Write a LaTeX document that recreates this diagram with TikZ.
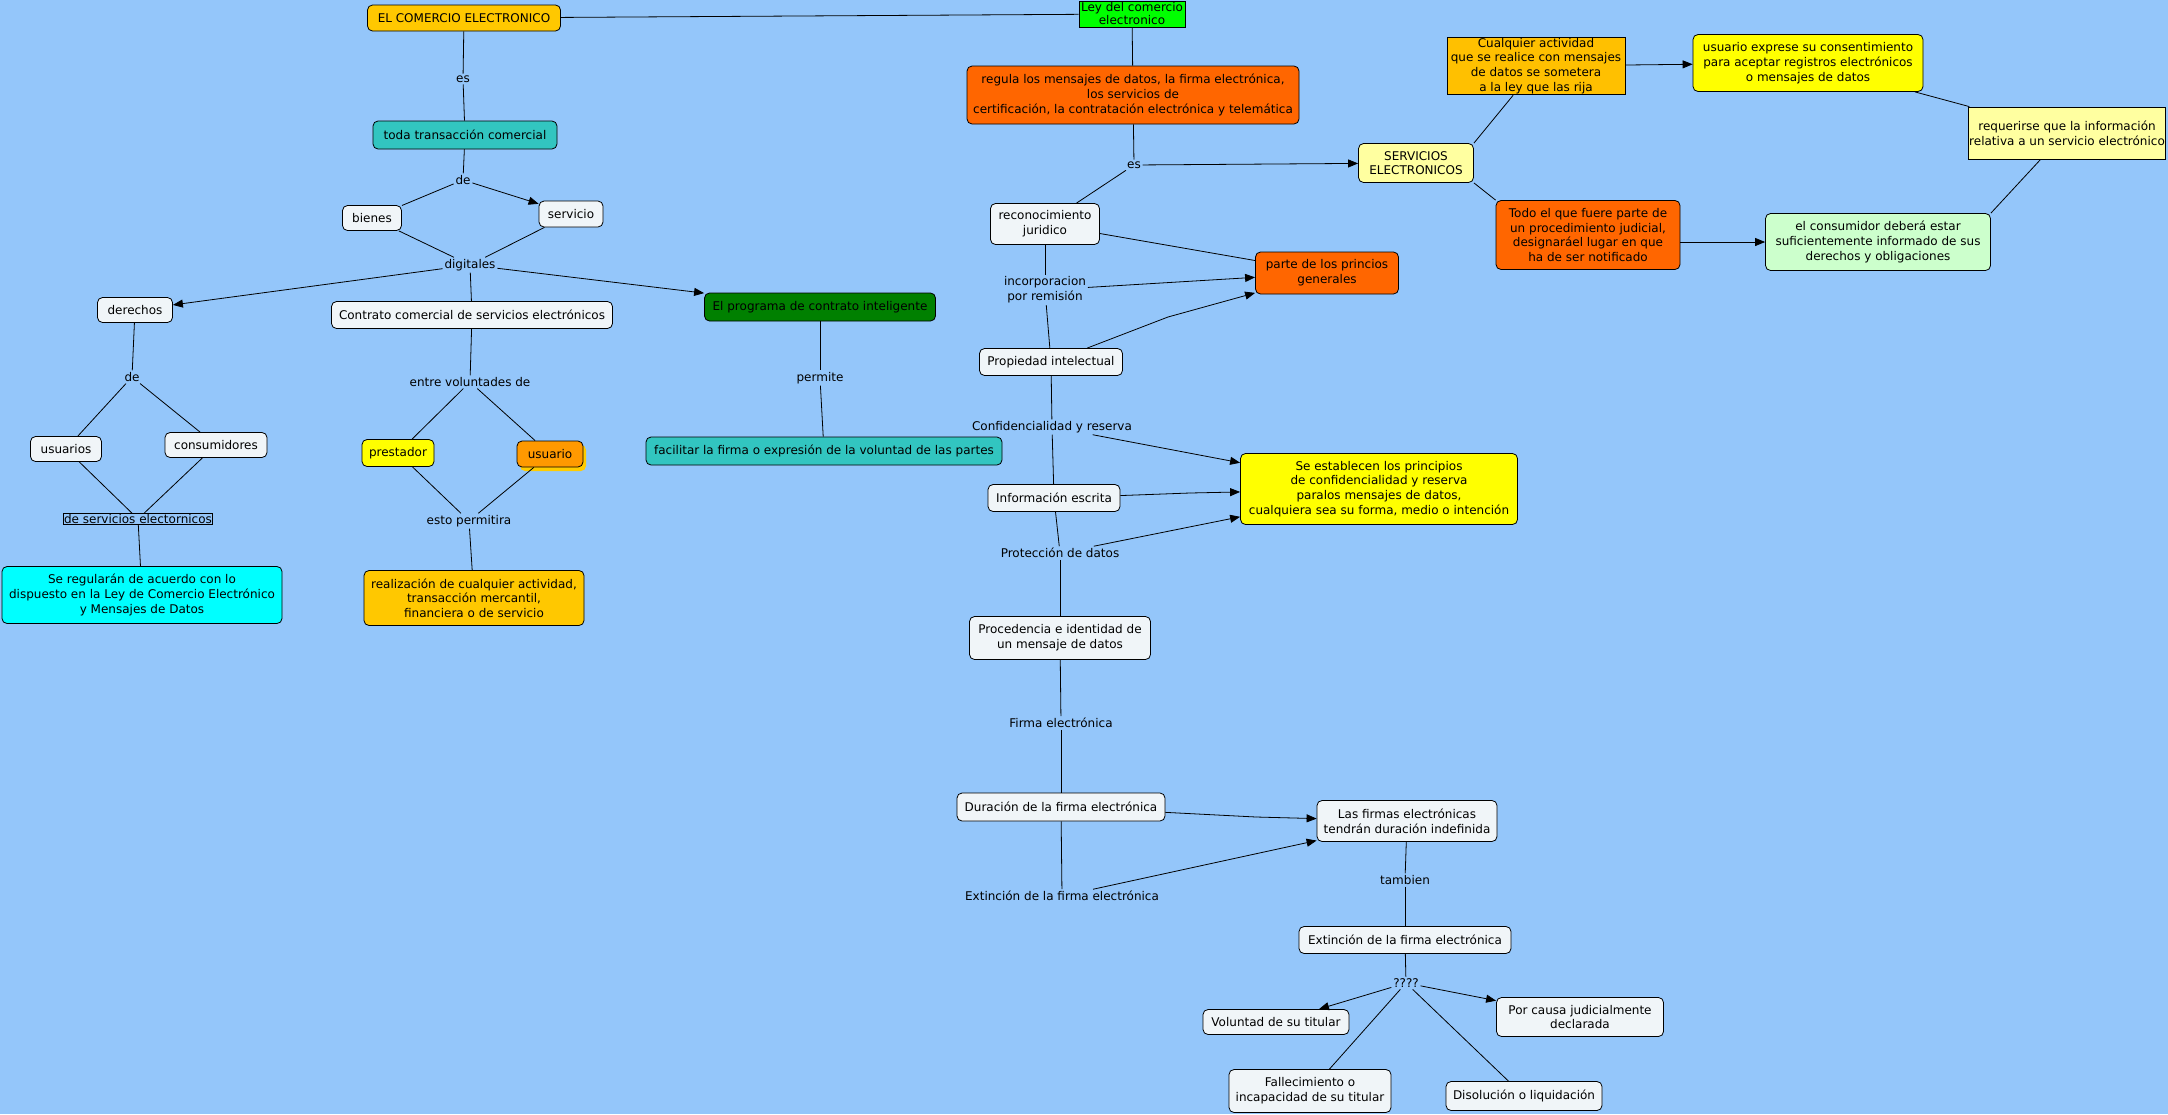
\documentclass[tikz,border=0pt]{standalone}
\usepackage{fontspec}
\setmainfont{DejaVu Sans}
\usetikzlibrary{arrows.meta,shadows}
\definecolor{mapblue}{RGB}{148,198,250}
\definecolor{cwhite}{RGB}{240,245,248}
\definecolor{cgold}{RGB}{255,200,0}
\definecolor{cgoldb}{RGB}{255,192,0}
\definecolor{cteal}{RGB}{50,197,192}
\definecolor{ccyan}{RGB}{0,255,255}
\definecolor{corange}{RGB}{255,102,0}
\definecolor{camber}{RGB}{255,153,0}
\definecolor{cshadow}{RGB}{255,204,0}
\definecolor{cyel}{RGB}{255,255,0}
\definecolor{cpale}{RGB}{255,255,160}
\definecolor{cmint}{RGB}{204,255,204}
\definecolor{cdkgreen}{RGB}{0,128,0}
\definecolor{clime}{RGB}{0,255,0}
\tikzset{
  concept/.style={draw, rounded corners=5pt, fill=cwhite, align=center, inner sep=1pt},
  square/.style={draw, fill=cwhite, align=center, inner sep=1pt},
  sz/.style 2 args={minimum width=#1pt, minimum height=#2pt},
  link/.style={fill=mapblue, inner sep=1.5pt, align=center},
  arr/.style={-{Triangle[length=10pt,width=8pt]}}
}
\begin{document}
\begin{tikzpicture}[x=1pt, y=-1pt, line width=0.8pt,
  every node/.style={font=\fontsize{12pt}{14.7pt}\selectfont}]
\useasboundingbox (0,0) rectangle (2168,1114);
\fill[mapblue] (0,0) rectangle (2168,1114);

% left part
\node[concept, fill=cgold, sz={193}{26}] (n_comercio) at (464,18) {EL COMERCIO ELECTRONICO};
\node[link] (l_es1) at (463,79) {es};
\node[concept, fill=cteal, sz={184}{28}] (n_toda) at (465,135) {toda transacción comercial};
\node[link] (l_de1) at (463,180) {de};
\node[concept, sz={59}{25}] (n_bienes) at (372,218) {bienes};
\node[concept, sz={64}{26}] (n_servicio) at (571,214) {servicio};
\node[link] (l_digit) at (470,265) {digitales};
\node[concept, sz={75}{25}] (n_derechos) at (135,310) {derechos};
\node[concept, sz={281}{27}] (n_contrato) at (472,315) {Contrato comercial de servicios electrónicos};
\node[concept, fill=cdkgreen, sz={231}{28}] (n_programa) at (820,307) {El programa de contrato inteligente};
\node[link] (l_de2) at (132,377) {de};
\node[concept, sz={71}{25}] (n_usuarios) at (66,449) {usuarios};
\node[concept, sz={102}{25}] (n_consum) at (216,445) {consumidores};
\node[draw, fill=mapblue, inner sep=0.5pt] (l_deserv) at (138,519) {de servicios electornicos};
\node[concept, fill=ccyan, sz={280}{57}] (n_seregul) at (142,595) {Se regularán de acuerdo con lo\\dispuesto en la Ley de Comercio Electrónico\\y Mensajes de Datos};
\node[link] (l_entre) at (470,382) {entre voluntades de};
\node[concept, fill=cyel, sz={72}{27}] (n_prestador) at (398,453) {prestador};
\node[concept, fill=camber, sz={66}{26},
  drop shadow={shadow xshift=3pt, shadow yshift=-4pt, fill=cshadow, opacity=1}] (n_usuario) at (550,454) {usuario};
\node[link] (l_esto) at (469,521) {esto permitira};
\node[concept, fill=cgold, sz={220}{55}] (n_realiz) at (474,598) {realización de cualquier actividad,\\transacción mercantil,\\financiera o de servicio};
\node[link] (l_permite) at (820,378) {permite};
\node[concept, fill=cteal, sz={356}{28}] (n_facilitar) at (824,451) {facilitar la firma o expresión de la voluntad de las partes};

% middle column
\node[square, fill=clime, sz={106}{26}, inner sep=0.5pt,
  font=\fontsize{12pt}{13pt}\selectfont] (n_ley) at (1132,14) {Ley del comercio\\electronico};
\node[concept, fill=corange, sz={332}{58}] (n_regula) at (1133,95) {regula los mensajes de datos, la firma electrónica,\\los servicios de\\certificación, la contratación electrónica y telemática};
\node[link] (l_es2) at (1134,165) {es};
\node[concept, sz={109}{41}] (n_reconoc) at (1045,224) {reconocimiento\\juridico};
\node[link] (l_incorp) at (1045,290) {incorporacion\\por remisión};
\node[concept, fill=corange, sz={143}{42}] (n_princ) at (1327,273) {parte de los princios\\generales};
\node[concept, sz={143}{27}] (n_propiedad) at (1051,362) {Propiedad intelectual};
\coordinate (c_prop) at (1168,317);
\node[link] (l_conf) at (1052,427) {Confidencialidad y reserva};
\node[concept, fill=cyel, sz={277}{71}] (n_establ) at (1379,489) {Se establecen los principios\\de confidencialidad y reserva\\paralos mensajes de datos,\\cualquiera sea su forma, medio o intención};
\node[concept, sz={132}{27}] (n_infesc) at (1054,498) {Información escrita};
\coordinate (c_inf) at (1190,493);
\node[link] (l_protec) at (1060,553) {Protección de datos};
\node[concept, sz={181}{43}] (n_proced) at (1060,638) {Procedencia e identidad de\\un mensaje de datos};
\node[link] (l_firma) at (1061,723) {Firma electrónica};
\node[concept, sz={208}{28}] (n_duracion) at (1061,807) {Duración de la firma electrónica};
\coordinate (c_dur) at (1256,817);
\node[concept, sz={180}{41}] (n_firmas) at (1407,821) {Las firmas electrónicas\\tendrán duración indefinida};
\node[link] (l_extin) at (1062,896) {Extinción de la firma electrónica};
\node[link] (l_tamb) at (1405,880) {tambien};
\node[concept, sz={212}{27}] (n_extin) at (1405,940) {Extinción de la firma electrónica};
\node[link] (l_q) at (1406,983) {????};
\node[concept, sz={146}{25}] (n_voluntad) at (1276,1022) {Voluntad de su titular};
\node[concept, sz={167}{39}] (n_causa) at (1580,1017) {Por causa judicialmente\\declarada};
\node[concept, sz={162}{43}] (n_fallec) at (1310,1091) {Fallecimiento o\\incapacidad de su titular};
\node[concept, sz={156}{29}] (n_disol) at (1524,1096) {Disolución o liquidación};

% right part
\node[concept, fill=cpale, sz={115}{39}] (n_servelec) at (1416,163) {SERVICIOS\\ELECTRONICOS};
\node[square, fill=cgoldb, sz={178}{57}] (n_cualq) at (1536,66) {Cualquier actividad\\que se realice con mensajes\\de datos se sometera\\a la ley que las rija};
\node[concept, fill=cyel, sz={230}{57}] (n_exprese) at (1808,63) {usuario exprese su consentimiento\\para aceptar registros electrónicos\\o mensajes de datos};
\node[square, fill=cpale, sz={197}{52}] (n_requer) at (2067,133) {requerirse que la información\\relativa a un servicio electrónico};
\node[concept, fill=corange, sz={184}{69}] (n_todo) at (1588,235) {Todo el que fuere parte de\\un procedimiento judicial,\\designaráel lugar en que\\ha de ser notificado};
\node[concept, fill=cmint, sz={225}{57}] (n_consumidor) at (1878,242) {el consumidor deberá estar\\suficientemente informado de sus\\derechos y obligaciones};

% connectors, left
\draw (n_comercio) -- (n_ley);
\draw (n_comercio) -- (l_es1);
\draw (l_es1) -- (n_toda);
\draw (n_toda) -- (l_de1);
\draw (l_de1) -- (n_bienes);
\draw[arr] (l_de1) -- (n_servicio);
\draw (n_bienes) -- (l_digit);
\draw (n_servicio) -- (l_digit);
\draw[arr] (l_digit) -- (n_derechos);
\draw (l_digit) -- (n_contrato);
\draw[arr] (l_digit) -- (n_programa);
\draw (n_derechos) -- (l_de2);
\draw (l_de2) -- (n_usuarios);
\draw (l_de2) -- (n_consum);
\draw (n_usuarios) -- (l_deserv);
\draw (n_consum) -- (l_deserv);
\draw (l_deserv) -- (n_seregul);
\draw (n_contrato) -- (l_entre);
\draw (l_entre) -- (n_prestador);
\draw (l_entre) -- (n_usuario);
\draw (n_prestador) -- (l_esto);
\draw (n_usuario) -- (l_esto);
\draw (l_esto) -- (n_realiz);
\draw (n_programa) -- (l_permite);
\draw (l_permite) -- (n_facilitar);

% connectors, middle
\draw (n_ley) -- (n_regula);
\draw (n_regula) -- (l_es2);
\draw[arr] (l_es2) -- (n_servelec);
\draw (l_es2) -- (n_reconoc);
\draw (n_reconoc) -- (n_princ);
\draw (n_reconoc) -- (l_incorp);
\draw[arr] (l_incorp) -- (n_princ);
\draw (l_incorp) -- (n_propiedad);
\draw (n_propiedad) -- (c_prop);
\draw[arr] (c_prop) -- (n_princ);
\draw (n_propiedad) -- (l_conf);
\draw[arr] (l_conf) -- (n_establ);
\draw (l_conf) -- (n_infesc);
\draw (n_infesc) -- (c_inf);
\draw[arr] (c_inf) -- (n_establ);
\draw (n_infesc) -- (l_protec);
\draw[arr] (l_protec) -- (n_establ);
\draw (l_protec) -- (n_proced);
\draw (n_proced) -- (l_firma);
\draw (l_firma) -- (n_duracion);
\draw (n_duracion) -- (c_dur);
\draw[arr] (c_dur) -- (n_firmas);
\draw (n_duracion) -- (l_extin);
\draw[arr] (l_extin) -- (n_firmas);
\draw (n_firmas) -- (l_tamb);
\draw (l_tamb) -- (n_extin);
\draw (n_extin) -- (l_q);
\draw[arr] (l_q) -- (n_voluntad);
\draw[arr] (l_q) -- (n_causa);
\draw (l_q) -- (n_fallec);
\draw (l_q) -- (n_disol);

% connectors, right
\draw (n_servelec.north east) -- (n_cualq.232);
\draw[arr] (n_cualq) -- (n_exprese);
\draw (n_exprese) -- (n_requer);
\draw (n_requer.225) -- (n_consumidor.north east);
\draw (n_servelec.south east) -- (n_todo.north west);
\draw[arr] (n_todo.east |- n_consumidor) -- (n_consumidor);
\end{tikzpicture}
\end{document}
